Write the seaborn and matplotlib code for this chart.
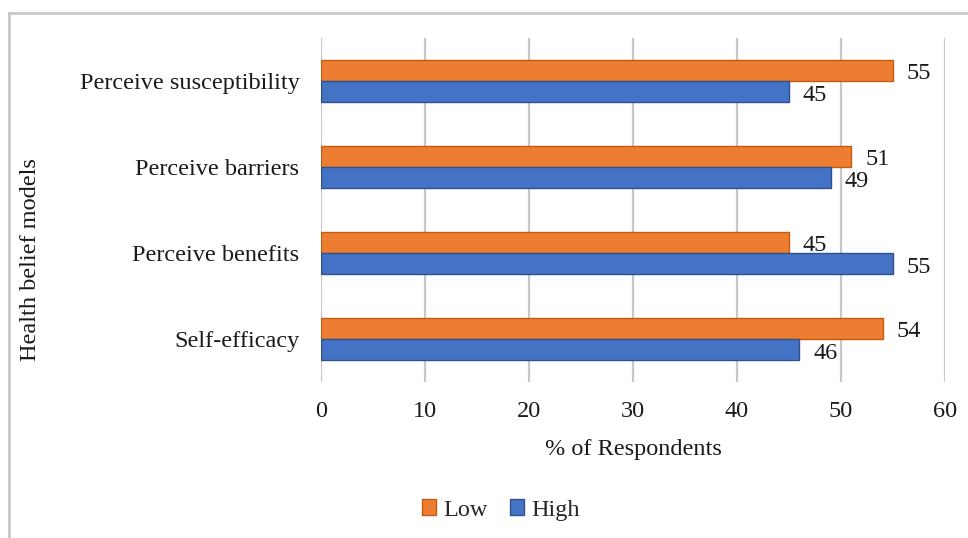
import matplotlib
matplotlib.use("Agg")
import matplotlib.pyplot as plt
from matplotlib.lines import Line2D
import seaborn as sns
import pandas as pd

categories = ["Perceive susceptibility", "Perceive barriers", "Perceive benefits", "Self-efficacy"]
low_values = [55, 51, 45, 54]
high_values = [45, 49, 55, 46]
series = ["Low", "High"]
x_ticks = [0, 10, 20, 30, 40, 50, 60]

fill_colors = {"Low": "#ED7D31", "High": "#4472C4"}
edge_colors = {"Low": "#C55A11", "High": "#2F528F"}

df = pd.DataFrame({
    "category": categories * 2,
    "level": ["Low"] * len(categories) + ["High"] * len(categories),
    "value": low_values + high_values,
})

sns.set_theme(style="white")
plt.rcParams["font.family"] = ["Liberation Serif", "DejaVu Serif"]
FS = 17.5
TXT = "#1a1a1a"

fig = plt.figure(figsize=(9.68, 5.38), dpi=100)
ax = fig.add_axes([321 / 968, 1 - 382 / 538, (945 - 321) / 968, (382 - 38) / 538])

sns.barplot(data=df, x="value", y="category", hue="level", hue_order=series,
            order=categories, palette=fill_colors, orient="h", width=0.49,
            dodge=True, ax=ax, legend=False, saturation=1)

for container, level in zip(ax.containers, series):
    for bar in container:
        bar.set_edgecolor(edge_colors[level])
        bar.set_linewidth(1.0)
    labels = ax.bar_label(container, fmt="%d", padding=10, fontsize=FS, color=TXT)
    for t in labels:
        # value labels sit a touch below the bar centre
        t.xyann = (10, -2.5)

ax.set_xlim(0, 60)
ax.set_xticks(x_ticks)
ax.set_xticklabels([str(t) for t in x_ticks], fontsize=FS, color=TXT)
ax.tick_params(axis="x", length=0, pad=14)
ax.tick_params(axis="y", length=0, pad=15.5, labelsize=FS, labelcolor=TXT)
ax.grid(axis="x", color="#C8C8C8", linewidth=1.6)
ax.set_axisbelow(True)
for s in ax.spines.values():
    s.set_visible(False)
ax.set_xlabel("% of Respondents", fontsize=FS, color=TXT, labelpad=12)
ax.set_ylabel("")

fig.text(31 / 968, 1 - 260 / 538, "Health belief models", rotation=90,
         ha="center", va="center", fontsize=FS, color=TXT)

handles = [plt.Rectangle((0, 0), 1, 1, facecolor=fill_colors[s], edgecolor=edge_colors[s]) for s in series]
fig.legend(handles, series, loc="center", bbox_to_anchor=(501 / 968, 1 - 510 / 538),
           ncol=2, frameon=False, fontsize=FS, handlelength=0.6, handleheight=0.6,
           handletextpad=0.3, columnspacing=0.9)

# outer frame: left and top edges
fig.add_artist(Line2D([9 / 968, 9 / 968], [0, 1 - 13 / 538], transform=fig.transFigure,
                      color="#C8C8C8", linewidth=2))
fig.add_artist(Line2D([9 / 968, 1], [1 - 13 / 538, 1 - 13 / 538], transform=fig.transFigure,
                      color="#C8C8C8", linewidth=2))

fig.savefig("out.png", dpi=100, facecolor="white")
